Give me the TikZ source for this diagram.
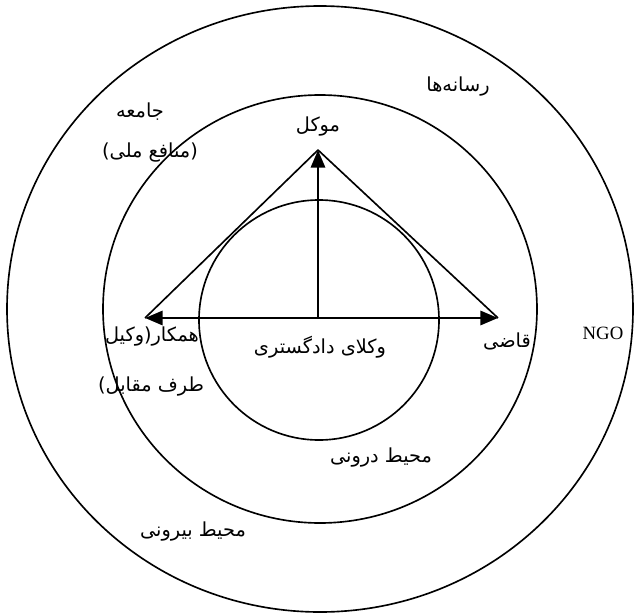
\documentclass[tikz,border=0pt]{standalone}
\usepackage{fontspec}
\usepackage{tikz}
\usetikzlibrary{arrows.meta}
\setmainfont{Liberation Serif}
\newfontfamily\farsifont[Script=Arabic]{DejaVu Sans}
\TeXXeTstate=1

\begin{document}
\begin{tikzpicture}[x=0.03cm,y=-0.03cm,
  ring/.style={draw=black,line width=1.4pt},
  lbl/.style={font=\farsifont\fontsize{16.5}{18}\selectfont,inner sep=1pt},
  bigarrow/.style={line width=2.4pt,-{Triangle[length=15pt,width=12pt]}}]
  \useasboundingbox (0,0) rectangle (634,614);
  \def\cx{320}
  \def\cy{309}
  % circles
  \draw[ring] (\cx,\cy) ellipse[x radius=313,y radius=303];
  \draw[ring] (\cx,\cy) ellipse[x radius=217,y radius=214];
  \draw[ring] (319,320) circle[radius=120];
  % triangle
  \coordinate (client) at (318,150);
  \coordinate (colleague) at (145,318);
  \coordinate (judge) at (498,318);
  \coordinate (lawyers) at (318,318);
  \draw[line width=1.4pt,line join=round] (colleague) -- (client) -- (judge);
  \draw[bigarrow,{Triangle[length=15pt,width=12pt]}-{Triangle[length=15pt,width=12pt]}] (colleague) -- (judge);
  \draw[bigarrow] (lawyers) -- (client);
  % labels
  \node[lbl] (society) at (140,112) {\beginR جامعه\endR};
  \node[lbl] (national) at (150,153) {\beginR (منافع ملی)\endR};
  \node[lbl] (media) at (458,87) {\beginR رسانه‌ها\endR};
  \node[lbl] (clientlbl) at (318,127) {\beginR موکل\endR};
  \node[lbl] (colleaguelbl) at (152,337) {\beginR همکار(وکیل\endR};
  \node[lbl] (opponentlbl) at (151,387) {\beginR طرف مقابل)\endR};
  \node[lbl] (lawyerslbl) at (320,347) {\beginR وکلای دادگستری\endR};
  \node[lbl] (judgelbl) at (507,341) {\beginR قاضی\endR};
  \node[font=\fontsize{16}{18}\selectfont,inner sep=1pt] (ngo) at (603,333) {NGO};
  \node[lbl] (inner) at (381,458) {\beginR محیط درونی\endR};
  \node[lbl] (outer) at (193,532) {\beginR محیط بیرونی\endR};
\end{tikzpicture}
\end{document}
